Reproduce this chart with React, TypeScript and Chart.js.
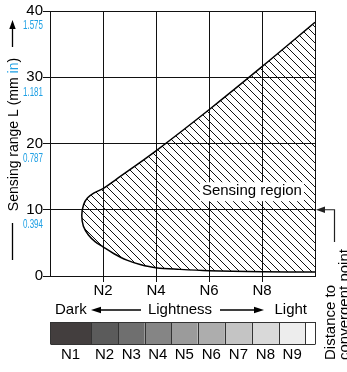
import React, { useEffect, useRef } from 'react';
import { Chart, registerables } from 'chart.js';

Chart.register(...registerables);

// ---------- data ----------
const lightnessTickValues = [2, 4, 6, 8];
const lightnessTickLabels = ['N2', 'N4', 'N6', 'N8'];
const rangeTickValues = [0, 10, 20, 30, 40];
const inchTickValues = [10, 20, 30, 40];
const inchTickLabels = ['0.394', '0.787', '1.181', '1.575'];

// upper boundary of sensing region (from tip to right)
const upperN = [1.2, 1.27, 1.42, 1.65, 2.0, 2.5, 4.0, 6.0, 8.0, 10.0];
const upperL = [9.2, 10.8, 11.8, 12.5, 13.2, 14.6, 18.9, 25.1, 31.6, 38.3];
// lower boundary of sensing region (from tip to right)
const lowerN = [1.2, 1.26, 1.45, 1.7, 2.0, 2.4, 2.9, 3.4, 4.0, 4.9, 6.0, 8.0, 10.0];
const lowerL = [9.2, 7.5, 6.2, 5.2, 4.4, 3.4, 2.4, 1.75, 1.25, 1.0, 0.8, 0.65, 0.6];

const grayLabels = ['N1', 'N2', 'N3', 'N4', 'N5', 'N6', 'N7', 'N8', 'N9', ''];

// ---------- styles ----------
const FONT = '"Liberation Sans", Arial, Helvetica, sans-serif';
const BLUE = '#1fa0e4';
const INK = '#111111';
const grayColors = ['#433e3e', '#5b5b5b', '#6f6f6f', '#858585', '#9b9b9b', '#adadad', '#c4c4c4', '#d9d9d9', '#ededed', '#ffffff'];
const grayEdges = [0, 1.55, 2.57, 3.57, 4.57, 5.57, 6.6, 7.62, 8.64, 9.64, 10];

function makeHatch(): CanvasPattern | string {
  const s = 8;
  const c = document.createElement('canvas');
  c.width = s;
  c.height = s;
  const g = c.getContext('2d');
  if (!g) return '#888';
  g.strokeStyle = INK;
  g.lineWidth = 1;
  g.beginPath();
  for (const o of [-s, 0, s]) {
    g.moveTo(o, 0);
    g.lineTo(o + s, s);
  }
  g.stroke();
  return g.createPattern(c, 'repeat') || '#888';
}

function arrowHead(ctx: CanvasRenderingContext2D, tipX: number, tipY: number, dirX: number, dirY: number, len = 9, half = 3) {
  const px = -dirY, py = dirX;
  ctx.beginPath();
  ctx.moveTo(tipX, tipY);
  ctx.lineTo(tipX - dirX * len + px * half, tipY - dirY * len + py * half);
  ctx.lineTo(tipX - dirX * len - px * half, tipY - dirY * len - py * half);
  ctx.closePath();
  ctx.fill();
}

const annotationPlugin = {
  id: 'annotations',
  afterDraw(chart: any) {
    const ctx: CanvasRenderingContext2D = chart.ctx;
    const xs = chart.scales.x;
    const ys = chart.scales.y;
    ctx.save();

    // "Sensing region" label with white box
    ctx.font = `15px ${FONT}`;
    const lab = 'Sensing region';
    const lw = ctx.measureText(lab).width;
    const lcx = xs.getPixelForValue(7.62);
    const lcy = ys.getPixelForValue(12.8);
    ctx.fillStyle = '#ffffff';
    ctx.fillRect(lcx - lw / 2 - 2, lcy - 9, lw + 4, 19);
    ctx.fillStyle = '#000';
    ctx.textAlign = 'center';
    ctx.textBaseline = 'middle';
    ctx.fillText(lab, lcx, lcy);

    // blue inch sub-labels
    ctx.fillStyle = BLUE;
    ctx.font = `12.5px ${FONT}`;
    ctx.textAlign = 'right';
    ctx.textBaseline = 'middle';
    inchTickValues.forEach((v, i) => {
      const py = ys.getPixelForValue(v) + 15;
      ctx.save();
      ctx.translate(43, py);
      ctx.scale(0.64, 1);
      ctx.fillText(inchTickLabels[i], 0, 0);
      ctx.restore();
    });

    // Y axis title (rotated)
    ctx.save();
    const cy = 134.5;
    ctx.translate(17.5, cy);
    ctx.rotate(-Math.PI / 2);
    ctx.font = `14px ${FONT}`;
    ctx.textAlign = 'left';
    ctx.textBaseline = 'alphabetic';
    const parts: [string, string][] = [['Sensing range L (mm ', '#000'], ['in', BLUE], [')', '#000']];
    const total = parts.reduce((a, p) => a + ctx.measureText(p[0]).width, 0);
    let xx = -total / 2;
    for (const [t, col] of parts) {
      ctx.fillStyle = col;
      ctx.fillText(t, xx, 0);
      xx += ctx.measureText(t).width;
    }
    ctx.strokeStyle = '#000';
    ctx.fillStyle = '#000';
    ctx.lineWidth = 1.3;
    ctx.beginPath();
    ctx.moveTo(cy - 260, -5);
    ctx.lineTo(cy - 223, -5);
    ctx.moveTo(cy - 47, -5);
    ctx.lineTo(cy - 27, -5);
    ctx.stroke();
    arrowHead(ctx, cy - 20, -5, 1, 0, 9, 3.2);
    ctx.restore();

    // right side: distance to convergent point
    const p10 = ys.getPixelForValue(10);
    ctx.strokeStyle = '#222';
    ctx.fillStyle = '#222';
    ctx.lineWidth = 1.2;
    ctx.beginPath();
    ctx.moveTo(334.5, 242);
    ctx.lineTo(334.5, p10);
    ctx.lineTo(324, p10);
    ctx.stroke();
    arrowHead(ctx, xs.right + 1, p10, -1, 0, 9, 3.2);
    ctx.save();
    ctx.translate(335, 360);
    ctx.rotate(-Math.PI / 2);
    ctx.fillStyle = '#000';
    ctx.font = `15px ${FONT}`;
    ctx.textAlign = 'left';
    ctx.textBaseline = 'alphabetic';
    ctx.fillText('Distance to', 0, 0);
    ctx.fillText('convergent point', 0, 14);
    ctx.restore();

    // Dark <-- Lightness --> Light
    const rowY = 310;
    ctx.fillStyle = '#000';
    ctx.strokeStyle = '#000';
    ctx.font = `15px ${FONT}`;
    ctx.textBaseline = 'middle';
    ctx.textAlign = 'left';
    ctx.fillText('Dark', 55, rowY);
    ctx.textAlign = 'center';
    ctx.fillText('Lightness', 180, rowY);
    ctx.textAlign = 'right';
    ctx.fillText('Light', 307, rowY);
    ctx.lineWidth = 1.3;
    ctx.beginPath();
    ctx.moveTo(98, rowY);
    ctx.lineTo(141, rowY);
    ctx.moveTo(220, rowY);
    ctx.lineTo(256, rowY);
    ctx.stroke();
    arrowHead(ctx, 91, rowY, -1, 0, 10, 3.2);
    arrowHead(ctx, 264, rowY, 1, 0, 10, 3.2);

    // gray scale bar
    const top = 322, h = 22;
    for (let i = 0; i < grayColors.length; i++) {
      const x0 = xs.getPixelForValue(grayEdges[i]);
      const x1 = xs.getPixelForValue(grayEdges[i + 1]);
      ctx.fillStyle = grayColors[i];
      ctx.fillRect(x0, top, x1 - x0, h);
    }
    ctx.strokeStyle = '#333';
    ctx.lineWidth = 1;
    ctx.beginPath();
    for (let i = 0; i < grayEdges.length; i++) {
      const x = Math.round(xs.getPixelForValue(grayEdges[i])) + 0.5;
      ctx.moveTo(x, top);
      ctx.lineTo(x, top + h);
    }
    const x0 = Math.round(xs.getPixelForValue(0)) + 0.5;
    const x1 = Math.round(xs.getPixelForValue(10)) + 0.5;
    ctx.moveTo(x0, top + 0.5);
    ctx.lineTo(x1, top + 0.5);
    ctx.moveTo(x0, top + h + 0.5);
    ctx.lineTo(x1, top + h + 0.5);
    ctx.stroke();
    ctx.fillStyle = '#000';
    ctx.textAlign = 'center';
    ctx.textBaseline = 'middle';
    ctx.font = `15px ${FONT}`;
    grayLabels.forEach((t, i) => {
      if (!t) return;
      const c = (xs.getPixelForValue(grayEdges[i]) + xs.getPixelForValue(grayEdges[i + 1])) / 2;
      ctx.fillText(t, c, 355);
    });

    ctx.restore();
  },
};

export default function App() {
  const ref = useRef<HTMLCanvasElement>(null);

  useEffect(() => {
    const canvas = ref.current;
    if (!canvas) return;
    Chart.defaults.font.family = FONT;
    const hatch = makeHatch();

    // closed outline: upper boundary (right -> tip) then lower boundary (tip -> right)
    const loop: { x: number; y: number }[] = [];
    for (let i = upperN.length - 1; i >= 0; i--) loop.push({ x: upperN[i], y: upperL[i] });
    for (let i = 1; i < lowerN.length; i++) loop.push({ x: lowerN[i], y: lowerL[i] });

    const chart = new Chart(canvas, {
      type: 'scatter',
      data: {
        datasets: [
          {
            label: 'Sensing region',
            data: loop,
            showLine: true,
            fill: 'shape',
            backgroundColor: hatch as any,
            borderColor: '#000',
            borderWidth: 1.5,
            pointRadius: 0,
            pointHoverRadius: 0,
            tension: 0.35,
          } as any,
        ],
      },
      options: {
        responsive: false,
        animation: false,
        events: [],
        layout: { padding: { left: 0, right: 32, top: 11, bottom: 0 } },
        plugins: {
          legend: { display: false },
          tooltip: { enabled: false },
          title: { display: false },
        },
        scales: {
          x: {
            type: 'linear',
            min: 0,
            max: 10,
            afterFit: (s: any) => {
              s.height = 96;
            },
            ticks: {
              stepSize: 2,
              autoSkip: false,
              maxRotation: 0,
              padding: 0,
              color: '#000',
              font: { size: 15, family: FONT },
              callback: (v: any) => {
                const i = lightnessTickValues.indexOf(Number(v));
                return i >= 0 ? lightnessTickLabels[i] : '';
              },
            },
            grid: {
              color: INK,
              lineWidth: 1,
              tickLength: 6,
              tickColor: (c: any) =>
                lightnessTickValues.includes(c.tick?.value) ? INK : 'rgba(0,0,0,0)',
            },
            border: { display: true, color: INK, width: 1 },
          },
          y: {
            type: 'linear',
            min: 0,
            max: 40,
            afterFit: (s: any) => {
              s.width = 50;
            },
            afterBuildTicks: (s: any) => {
              s.ticks = rangeTickValues.map((v) => ({ value: v }));
            },
            ticks: {
              padding: 0,
              color: '#000',
              font: { size: 15, family: FONT },
              callback: (v: any) => String(v),
            },
            grid: { color: INK, lineWidth: 1, tickLength: 7, tickColor: INK },
            border: { display: true, color: INK, width: 1 },
          },
        },
      },
      plugins: [annotationPlugin],
    });
    return () => chart.destroy();
  }, []);

  return (
    <div style={{ position: 'fixed', left: 0, top: 0, width: 347, height: 372, background: '#fff' }}>
      <canvas ref={ref} width={347} height={372} style={{ display: 'block' }} />
    </div>
  );
}
